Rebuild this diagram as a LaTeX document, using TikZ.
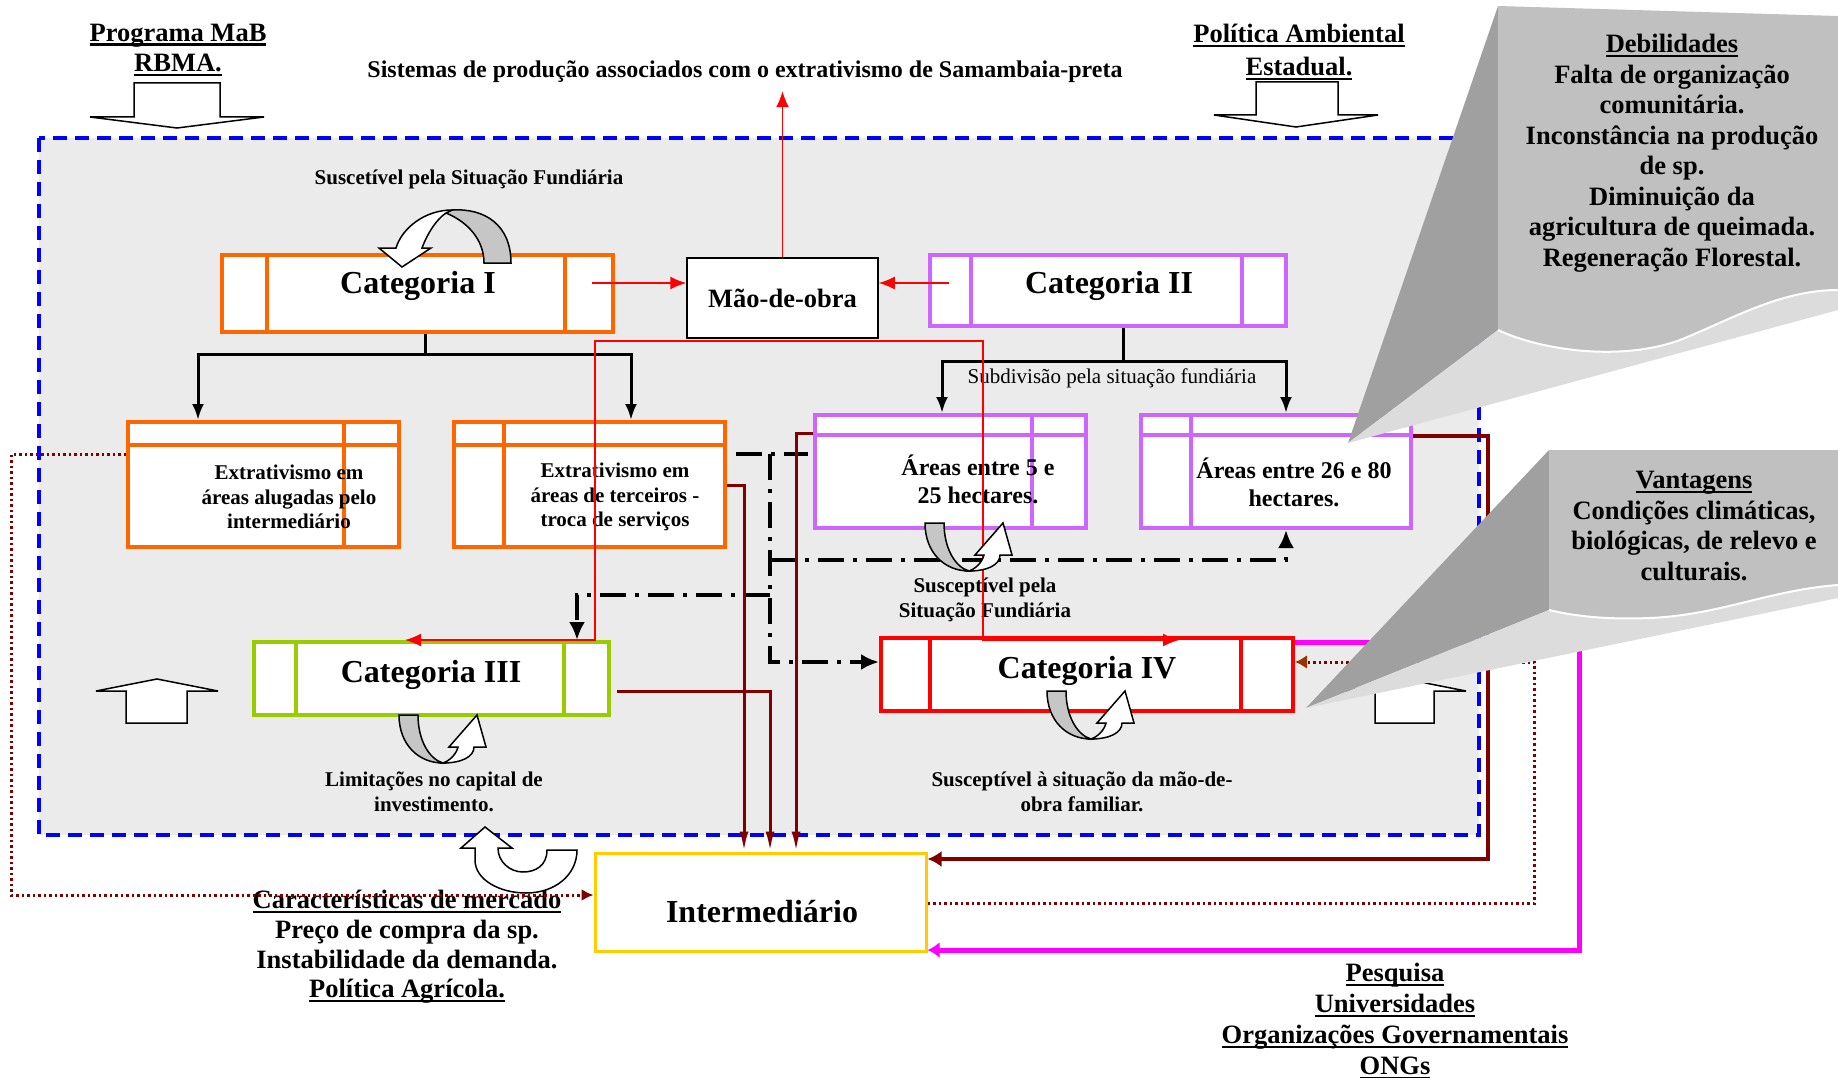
\documentclass[tikz,border=0pt]{standalone}
\usepackage{fontspec}
\setmainfont{Liberation Serif}
\usepackage{tikz}
\usetikzlibrary{arrows.meta}
\usepackage{xcolor}

\definecolor{catorange}{HTML}{FF6600}
\definecolor{catviolet}{HTML}{CC66FF}
\definecolor{catgreen}{HTML}{99CC00}
\definecolor{catgold}{HTML}{FFCC00}
\definecolor{darkred}{HTML}{800000}
\definecolor{brownish}{HTML}{993300}
\definecolor{pinkline}{HTML}{FF00FF}
\definecolor{framegray}{HTML}{EBEBEB}
\definecolor{callmain}{HTML}{C0C0C0}
\definecolor{calldark}{HTML}{A0A0A0}
\definecolor{calllight}{HTML}{DCDCDC}

\newcommand{\bigfont}{\fontsize{32}{36}\selectfont\bfseries}
\newcommand{\midfont}{\fontsize{26.5}{30.5}\selectfont\bfseries}
\newcommand{\areafont}{\fontsize{24}{28}\selectfont\bfseries}
\newcommand{\smallfont}{\fontsize{21}{24.5}\selectfont\bfseries}
\newcommand{\ulbar}[1]{\setbox0\hbox{#1}\leavevmode\rlap{\rule[-0.17em]{\wd0}{0.09em}}\box0}

\begin{document}
\begin{tikzpicture}[x=1pt, y=-1pt,
    catbox/.style={draw, fill=white, line width=4pt, inner sep=0pt},
    txt/.style={inner sep=0pt, align=center, font=\smallfont},
    cattxt/.style={inner sep=0pt, font=\bigfont},
    blk/.style={line width=3pt, -{Latex[length=16pt,width=12pt]}},
    redln/.style={red, line width=1.5pt, -{Latex[length=16pt,width=13pt]}},
    drln/.style={darkred, line width=3pt, -{Latex[length=20pt,width=9pt]}},
    dotln/.style={darkred, line width=3pt, dash pattern=on 2.5pt off 3pt, -{Latex[length=12pt,width=12pt]}},
    dashdot/.style={line width=3.5pt, dash pattern=on 26pt off 9pt on 4pt off 9pt, -{Latex[length=18pt,width=16pt]}},
    blockarrow/.style={fill=white, draw, line width=1.5pt},
    uturn/.pic={
        \filldraw[fill=gray!45, line width=1.5pt] (0,0) -- (19,0) .. controls (19,25) and (30,44) .. (44,48)
            .. controls (20,48) and (0,30) .. (0,0) -- cycle;
        \filldraw[fill=white, line width=1.5pt] (44,48) .. controls (62,48) and (75,42) .. (75,32) -- (87,32)
            -- (78,0) -- (50,32) -- (59,32) .. controls (57,40) and (50,46) .. (44,48) -- cycle;
    }]
\useasboundingbox (0,0) rectangle (1838,1078);

% frame
\filldraw[fill=framegray, draw=blue, line width=4pt, dash pattern=on 14pt off 8pt] (39,138) rectangle (1479,835);

% boxes
\node[catbox, draw=catorange, minimum width=391, minimum height=77] (cat1) at (417.5,293.5) {};
\node[catbox, draw=catviolet, minimum width=356, minimum height=71] (cat2) at (1108,290.5) {};
\node[draw, fill=white, line width=1.5pt, inner sep=0pt, minimum width=191, minimum height=80, font=\midfont] (mao) at (782.5,298) {Mão-de-obra};
\node[catbox, draw=catorange, minimum width=271, minimum height=125] (ext1) at (263.5,484.5) {};
\node[catbox, draw=catorange, minimum width=271, minimum height=125] (ext2) at (589.5,484.5) {};
\node[catbox, draw=catviolet, minimum width=271, minimum height=113] (area1) at (950.5,471.5) {};
\node[catbox, draw=catviolet, minimum width=270, minimum height=113] (area2) at (1276,471.5) {};
\node[catbox, draw=catgreen, minimum width=355, minimum height=73] (cat3) at (431.5,678.5) {};
\node[catbox, draw=red, minimum width=412, minimum height=73] (cat4) at (1087,674.5) {};
\node[catbox, draw=catgold, line width=3pt, minimum width=331, minimum height=98] (inter) at (760.5,902) {};

% cells
\draw[catorange, line width=4pt] ([xshift=47pt]cat1.north west) -- ([xshift=47pt]cat1.south west);
\draw[catorange, line width=4pt] ([xshift=345pt]cat1.north west) -- ([xshift=345pt]cat1.south west);
\draw[catviolet, line width=4pt] ([xshift=43pt]cat2.north west) -- ([xshift=43pt]cat2.south west);
\draw[catviolet, line width=4pt] ([xshift=314pt]cat2.north west) -- ([xshift=314pt]cat2.south west);
\draw[catgreen, line width=4pt] ([xshift=44pt]cat3.north west) -- ([xshift=44pt]cat3.south west);
\draw[catgreen, line width=4pt] ([xshift=312pt]cat3.north west) -- ([xshift=312pt]cat3.south west);
\draw[red, line width=4pt] ([xshift=51pt]cat4.north west) -- ([xshift=51pt]cat4.south west);
\draw[red, line width=4pt] ([xshift=362pt]cat4.north west) -- ([xshift=362pt]cat4.south west);
\draw[catorange, line width=4pt] ([yshift=-25pt]ext1.north west) -- ([yshift=-25pt]ext1.north east);
\draw[catorange, line width=4pt] ([xshift=218pt]ext1.north west) -- ([xshift=218pt]ext1.south west);
\draw[catorange, line width=4pt] ([yshift=-25pt]ext2.north west) -- ([yshift=-25pt]ext2.north east);
\draw[catorange, line width=4pt] ([xshift=52pt]ext2.north west) -- ([xshift=52pt]ext2.south west);
\draw[catviolet, line width=4pt] ([yshift=-22pt]area1.north west) -- ([yshift=-22pt]area1.north east);
\draw[catviolet, line width=4pt] ([xshift=219pt]area1.north west) -- ([xshift=219pt]area1.south west);
\draw[catviolet, line width=4pt] ([yshift=-22pt]area2.north west) -- ([yshift=-22pt]area2.north east);
\draw[catviolet, line width=4pt] ([xshift=52pt]area2.north west) -- ([xshift=52pt]area2.south west);

% texts
\node[cattxt] (cat1t) at (418,286) {Categoria I};
\node[cattxt] (cat2t) at (1109,286) {Categoria II};
\node[cattxt] (cat3t) at (431,675) {Categoria III};
\node[cattxt] (cat4t) at (1087,671) {Categoria IV};
\node[cattxt] (intert) at (762,912) {Intermediário};
\node[txt] (ext1t) at (289,497) {Extrativismo em\\áreas alugadas pelo\\intermediário};
\node[txt] (ext2t) at (615,497) {Extrativismo em\\áreas de terceiros -\\troca de serviços};
\node[txt, font=\areafont] (area1t) at (978,479) {Áreas entre 5 e\\25 hectares.};
\node[txt, font=\areafont] (area2t) at (1294,482) {Áreas entre 26 e 80\\hectares.};
\node[inner sep=0pt, font=\fontsize{24}{28}\selectfont\bfseries] (title) at (745,72) {Sistemas de produção associados com o extrativismo de Samambaia-preta};
\node[txt, font=\midfont] (mab) at (178,50) {\ulbar{Programa MaB}\\\ulbar{RBMA.}};
\node[txt, font=\fontsize{26.5}{33}\selectfont\bfseries] (polit) at (1299,52) {\ulbar{Política Ambiental}\\\ulbar{Estadual.}};
\node[txt] (susc1) at (469,179) {Suscetível pela Situação Fundiária};
\node[txt, font=\fontsize{21}{24.5}\selectfont] (subdiv) at (1112,378) {Subdivisão pela situação fundiária};
\node[txt] (susc2) at (985,600) {Susceptível pela\\Situação Fundiária};
\node[txt] (limit) at (434,792) {Limitações no capital de\\investimento.};
\node[txt] (susc3) at (1082,792) {Susceptível à situação da mão-de-\\obra familiar.};
\node[txt, font=\fontsize{26.5}{29.7}\selectfont\bfseries] (merc) at (407,947) {\ulbar{Características de mercado}\\Preço de compra da sp.\\Instabilidade da demanda.\\\ulbar{Política Agrícola.}};
\node[txt, font=\fontsize{26.5}{31}\selectfont\bfseries] (pesq) at (1395,1021) {\ulbar{Pesquisa}\\\ulbar{Universidades}\\\ulbar{Organizações Governamentais}\\\ulbar{ONGs}};

% tree arrows
\draw[blk] ([xshift=7.5pt]cat1.south) -- ++(0,20) -| ([xshift=72pt]ext1.north west);
\draw[blk] ([xshift=7.5pt]cat1.south) -- ++(0,20) -| ([xshift=41.5pt]ext2.north);
\draw[blk] ([xshift=15pt]cat2.south) -- ++(0,33) -| ([xshift=-8.5pt]area1.north);
\draw[blk] ([xshift=15pt]cat2.south) -- ++(0,33) -| ([xshift=10pt]area2.north);

% red lines
\draw[redln] ([xshift=-23pt,yshift=10.5pt]cat1.east) -- ([yshift=15pt]mao.west);
\draw[redln] ([xshift=21pt,yshift=7.5pt]cat2.west) -- ([yshift=15pt]mao.east);
\draw[redln] (mao.north) -- ++(0,-166);
\draw[redln] ([yshift=-2pt]mao.south) -| ([xshift=-16pt]cat3.north east) -- ([xshift=-26.5pt]cat3.north);
\draw[redln] ([yshift=-2pt]mao.south) -| ([xshift=-104pt,yshift=-4pt]cat4.north) -- ([xshift=92pt,yshift=-4pt]cat4.north);

% dash-dot links
\coordinate (hub) at (770,454);
\coordinate (hubA) at (770,560);
\coordinate (hubB) at (770,595);
\draw[dashdot, -] ([xshift=9pt,yshift=30.5pt]ext2.east) -- ([xshift=-5pt,yshift=17.5pt]area1.west);
\draw[dashdot] (hub) |- ([yshift=12.5pt]cat4.west);
\draw[dashdot] (hubA) -| ([xshift=10pt]area2.south);
\draw[dashdot] (hubB) -| ([xshift=145.5pt]cat3.north);

% to intermediario
\draw[drln] ([yshift=-0.5pt]ext2.east) -| ([xshift=-16.5pt]inter.north);
\draw[drln] ([xshift=6pt,yshift=-12.5pt]cat3.east) -| ([xshift=9.5pt]inter.north);
\draw[drln] ([yshift=38.5pt]area1.west) -| ([xshift=35.5pt]inter.north);
\draw[darkred, line width=4.5pt, -{Latex[length=14pt,width=16pt]}] ([yshift=35.5pt]area2.east) -- ++(75,0) |- ([yshift=43pt]inter.east);
\draw[dotln] ([yshift=30.5pt]ext1.west) -- ++(-115,0) |- ([yshift=7pt]inter.west);
\draw[dotln, -{Latex[length=12pt,width=14pt,color=brownish]}] ([yshift=-1pt]inter.east) -- ++(607,0) |- ([yshift=12.5pt]cat4.east);
\draw[pinkline, line width=5pt, -{Latex[length=12pt,width=16pt]}] ([yshift=32.5pt]cat4.east) -- ++(284,0) |- ([yshift=-48pt]inter.east);

% turning arrows
\filldraw[fill=gray!45, line width=1.5pt] (511,263) .. controls (511,225) and (485,208) .. (452,210) -- (446,213)
    .. controls (468,222) and (484,240) .. (484,263) -- cycle;
\filldraw[fill=white, line width=1.5pt] (452,210) .. controls (425,210) and (402,228) .. (396,248) -- (379,248) -- (402,267)
    -- (431,248) -- (422,248) .. controls (428,232) and (437,219) .. (446,213) -- cycle;
\pic at (399,715) {uturn};
\pic at (925,523) {uturn};
\pic at (1047,691) {uturn};
\filldraw[fill=white, line width=1.5pt] (475,848) -- (475,860) .. controls (475,880) and (500,893) .. (526,893)
    .. controls (555,893) and (577,875) .. (577,850) -- (547,850) .. controls (547,866) and (535,872) .. (523,872)
    .. controls (510,872) and (498,862) .. (498,848) -- (512,848) -- (485,827) -- (461,848) -- cycle;

% block arrows
\filldraw[blockarrow] (134,83) -- (220,83) -- (220,117) -- (264,117) -- (177,128) -- (90,117) -- (134,117) -- cycle;
\filldraw[blockarrow] (1256,82) -- (1338,82) -- (1338,115) -- (1378,115) -- (1296,127) -- (1214,115) -- (1256,115) -- cycle;
\filldraw[blockarrow] (126,723) -- (187,723) -- (187,691) -- (218,691) -- (157,679) -- (96,691) -- (126,691) -- cycle;
\filldraw[blockarrow] (1375,723) -- (1434,723) -- (1434,691) -- (1466,691) -- (1405,679) -- (1344,691) -- (1375,691) -- cycle;

% callouts
\fill[calldark] (1498,6) -- (1498,330) -- (1348,443) -- cycle;
\fill[calllight] (1498,330) .. controls (1540,350) and (1620,362) .. (1680,340) .. controls (1730,320) and (1780,290) .. (1838,290)
    -- (1838,310) -- (1348,443) -- cycle;
\fill[callmain] (1498,6) -- (1838,16) -- (1838,290) .. controls (1780,290) and (1730,320) .. (1680,340)
    .. controls (1620,362) and (1540,350) .. (1498,330) -- cycle;
\draw[white, line width=2pt] (1498,330) .. controls (1540,350) and (1620,362) .. (1680,340) .. controls (1730,320) and (1780,290) .. (1838,290);
\node[txt, font=\midfont] (debil) at (1672,153) {\ulbar{Debilidades}\\Falta de organização\\comunitária.\\Inconstância na produção\\de sp.\\Diminuição da\\agricultura de queimada.\\Regeneração Florestal.};

\fill[calldark] (1549,450) -- (1549,610) -- (1306,708) -- cycle;
\fill[calllight] (1549,610) .. controls (1570,615) and (1600,620) .. (1650,618) .. controls (1720,615) and (1770,590) .. (1838,585)
    -- (1838,598) -- (1306,708) -- cycle;
\fill[callmain] (1549,450) -- (1838,450) -- (1838,585) .. controls (1770,590) and (1720,615) .. (1650,618)
    .. controls (1600,620) and (1570,615) .. (1549,610) -- cycle;
\draw[white, line width=2pt] (1549,610) .. controls (1570,615) and (1600,620) .. (1650,618) .. controls (1720,615) and (1770,590) .. (1838,585);
\node[txt, font=\midfont] (vant) at (1694,526) {\ulbar{Vantagens}\\Condições climáticas,\\biológicas, de relevo e\\culturais.};
\end{tikzpicture}
\end{document}
